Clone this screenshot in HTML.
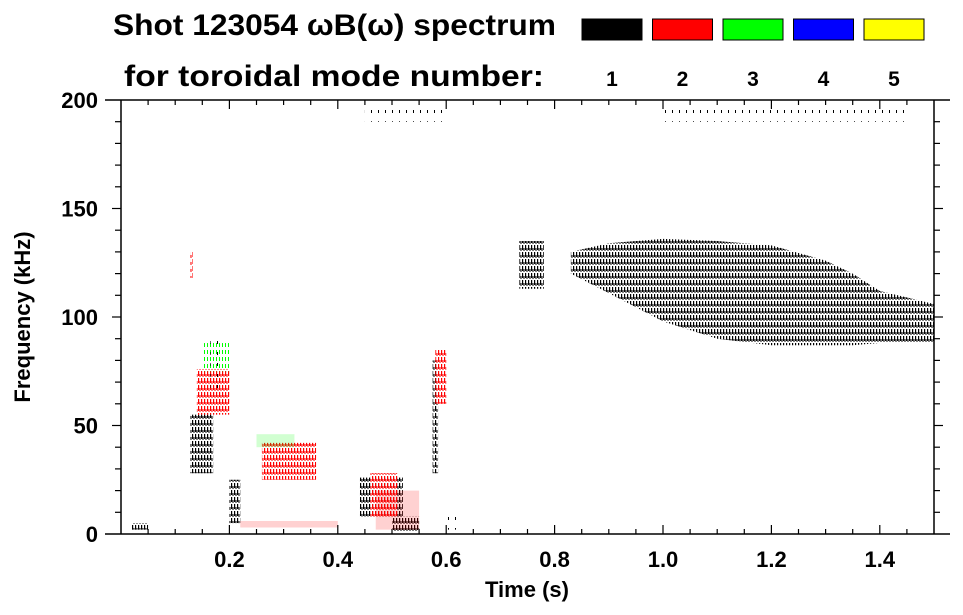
<!DOCTYPE html>
<html><head><meta charset="utf-8"><style>
body{margin:0;background:#fff}
svg{display:block;font-family:"Liberation Sans",sans-serif;font-weight:bold}
</style></head><body>
<svg id="chart" width="963" height="615" viewBox="0 0 963 615" xmlns="http://www.w3.org/2000/svg">
<defs>
<pattern id="p1" width="3" height="7" patternUnits="userSpaceOnUse"><rect x="0" y="0" width="1.2" height="5" fill="#000"/><rect x="1.5" y="3" width="1" height="3" fill="#000"/></pattern>
<pattern id="p2" width="3" height="7" patternUnits="userSpaceOnUse"><rect x="0" y="0" width="1.2" height="5" fill="#f00"/><rect x="1.5" y="3" width="1" height="3" fill="#f00"/></pattern>
<pattern id="p3" width="3" height="7" patternUnits="userSpaceOnUse"><rect x="0" y="0" width="1" height="4" fill="#0f0"/></pattern>
<pattern id="p1s" width="7" height="11" patternUnits="userSpaceOnUse"><rect x="0" y="0" width="1" height="3" fill="#000"/></pattern>
</defs>
<text x="113" y="35" font-size="30" textLength="443" lengthAdjust="spacingAndGlyphs">Shot 123054 ωB(ω) spectrum</text>
<text x="124" y="86" font-size="30" textLength="420" lengthAdjust="spacingAndGlyphs">for toroidal mode number:</text>
<g id="legend"></g>
<g id="marks"></g>
<g id="axes"></g>
<text x="527" y="597" font-size="22" text-anchor="middle">Time (s)</text>
<text transform="translate(30,317) rotate(-90)" font-size="22" text-anchor="middle">Frequency (kHz)</text>
</svg>
<script>
const modeLabels=["1","2","3","4","5"];
const modeColors=["#000","#f00","#0f0","#00f","#ff0"];
const xTicks=[0.2,0.4,0.6,0.8,1.0,1.2,1.4];
const xTickLabels=["0.2","0.4","0.6","0.8","1.0","1.2","1.4"];
const yTicks=[0,50,100,150,200];
const yTickLabels=["0","50","100","150","200"];
// main mode-1 band (t, upper & lower frequency kHz)
const bandT=[0.83,0.9,1.0,1.1,1.2,1.3,1.35,1.4,1.5];
const bandTop=[130,134,136,135,133,126,120,112,106];
const bandBot=[120,111,98,90,87,87,87,88,88];
// patches: t0,t1,f0,f1,mode
const patchT0=[0.735,0.128,0.20,0.14,0.26,0.44,0.46,0.50,0.575,0.58,0.128,0.15,0.02,0.22,0.45,0.60,1.0,0.47,0.165,0.25];
const patchT1=[0.78,0.17,0.22,0.20,0.36,0.52,0.51,0.55,0.585,0.60,0.132,0.20,0.05,0.40,0.60,0.62,1.45,0.55,0.185,0.32];
const patchF0=[113,28,5,55,25,8,8,1,28,60,118,75,2,3,190,2,190,2,67,40];
const patchF1=[135,55,25,76,42,26,28,8,80,85,130,88,5,6,198,8,198,20,90,46];
const patchMode=[1,1,1,2,2,1,2,1,1,2,2,3,1,2,1,1,1,2,1,3];
const patchSparse=[0,0,0,0,0,0,0,0,0,0,0,0,0,1,1,1,1,1,1,1];

const X0=121,X1=934,Y0=534,Y1=100;
const xs=t=>X0+(t/1.5)*(X1-X0);
const ys=f=>Y0-(f/200)*(Y0-Y1);
const NS="http://www.w3.org/2000/svg";
function mk(tag,attrs,parent){const e=document.createElementNS(NS,tag);for(const k in attrs)e.setAttribute(k,attrs[k]);parent.appendChild(e);return e;}
const marks=document.getElementById('marks'),axes=document.getElementById('axes'),legend=document.getElementById('legend');

modeLabels.forEach((m,i)=>{
 const x=582+i*70.5;
 const r=mk('rect',{x:x,y:19,width:60,height:21,fill:modeColors[i],stroke:'#000','stroke-width':1},legend);
 
 
 const t=mk('text',{x:x+30,y:86,'font-size':21,'text-anchor':'middle'},legend);
 t.textContent=m;
 
 
});

let pts=[];
bandT.forEach((t,i)=>pts.push(xs(t)+','+ys(bandTop[i])));
for(let i=bandT.length-1;i>=0;i--)pts.push(xs(bandT[i])+','+ys(bandBot[i]));
const band=mk('polygon',{points:pts.join(' '),fill:'url(#p1)'},marks);



patchT0.forEach((t0,i)=>{
 const m=patchMode[i];
 const fill=patchSparse[i]?(m===1?'url(#p1s)':modeColors[m-1]):'url(#p'+m+')';
 const r=mk('rect',{x:xs(t0),y:ys(patchF1[i]),width:xs(patchT1[i])-xs(t0),height:ys(patchF0[i])-ys(patchF1[i]),fill:fill,opacity:patchSparse[i]&&m!==1?0.18:1},marks);
 
 
});

mk('line',{x1:X0,y1:Y0,x2:X0,y2:Y1,stroke:'#000','stroke-width':1.5},axes);
mk('line',{x1:X1,y1:Y0,x2:X1,y2:Y1,stroke:'#000','stroke-width':1.5},axes);
mk('line',{x1:105,y1:Y0,x2:950,y2:Y0,stroke:'#000','stroke-width':1.5},axes);
mk('line',{x1:105,y1:Y1,x2:950,y2:Y1,stroke:'#000','stroke-width':1.5},axes);
for(let k=1;k<30;k++){
 const t=k*0.05,x=xs(t),len=(k%4===0)?9:5;
 mk('line',{x1:x,y1:Y0,x2:x,y2:Y0-len,stroke:'#000','stroke-width':1.2},axes);
 mk('line',{x1:x,y1:Y1,x2:x,y2:Y1+len,stroke:'#000','stroke-width':1.2},axes);
}
for(let k=1;k<20;k++){
 const y=ys(k*10),len=(k%5===0)?9:6;
 mk('line',{x1:X0,y1:y,x2:X0-len,y2:y,stroke:'#000','stroke-width':1.2},axes);
 mk('line',{x1:X1,y1:y,x2:X1+len,y2:y,stroke:'#000','stroke-width':1.2},axes);
}
xTicks.forEach((t,i)=>{
 const e=mk('text',{x:xs(t),y:567,'font-size':22,'text-anchor':'middle'},axes);
 e.textContent=xTickLabels[i];
 
 
});
yTicks.forEach((f,i)=>{
 const e=mk('text',{x:98,y:ys(f)+8,'font-size':22,'text-anchor':'end'},axes);
 e.textContent=yTickLabels[i];
 
 
});
</script>
</body></html>
